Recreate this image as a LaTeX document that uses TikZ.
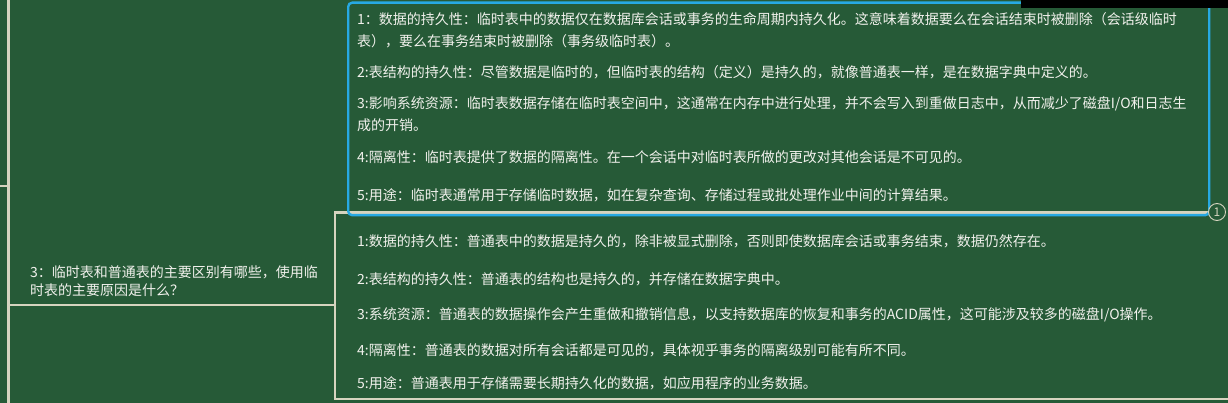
\documentclass[tikz,border=0pt]{standalone}
\usepackage{fontspec}
\setmainfont{Noto Sans CJK SC}
\definecolor{bg}{HTML}{265A37}
\definecolor{linec}{HTML}{D6D4BF}
\definecolor{textc}{HTML}{F1F1EC}
\definecolor{selc}{HTML}{27A9E3}
\definecolor{overlay}{HTML}{2B2C2D}
\begin{document}
\begin{tikzpicture}[x=1pt,y=-1pt,
  conn/.style={draw=linec,line width=2.2pt},
  txt/.style={anchor=base west,inner sep=0pt,text=textc,font=\fontsize{14}{16}\selectfont},
]
\fill[bg] (0,0) rectangle (1228,403);
\useasboundingbox (0,0) rectangle (1228,403);
% coordinates of connector ends
\coordinate (rootTop) at (8.5,-2);
\coordinate (rootBot) at (8.5,405);
\coordinate (stubL) at (-2,186);
\coordinate (stubR) at (8.5,186);
\coordinate (tL) at (9,305);
\coordinate (tR) at (335,305);
\coordinate (bTop) at (335,212.5);
\coordinate (bBot) at (335,399);
\coordinate (c1R) at (1208,212.5);
\coordinate (c2R) at (1230,399);
% connectors
\draw[conn] (rootTop) -- (rootBot);
\draw[conn] (stubL) -- (stubR);
\draw[conn] (tL) -- (tR);
\draw[conn] (c1R) -- (bTop) -- (bBot) -- (c2R);
% selection box of first child
\node[draw=selc,line width=2.4pt,rounded corners=4pt,minimum width=861pt,minimum height=212.5pt,anchor=north west,inner sep=0pt] (sel) at (347,1.5) {};
% topic
\node[txt] (topic1) at (30,277) {3：临时表和普通表的主要区别有哪些，使用临};
\node[txt] (topic2) at (30,295) {时表的主要原因是什么？};
% child 1
\node[txt] (a1) at (357,25) {1：数据的持久性：临时表中的数据仅在数据库会话或事务的生命周期内持久化。这意味着数据要么在会话结束时被删除（会话级临时};
\node[txt] (a2) at (357,47) {表），要么在事务结束时被删除（事务级临时表）。};
\node[txt] (a3) at (357,78) {2:表结构的持久性：尽管数据是临时的，但临时表的结构（定义）是持久的，就像普通表一样，是在数据字典中定义的。};
\node[txt] (a4) at (357,109) {3:影响系统资源：临时表数据存储在临时表空间中，这通常在内存中进行处理，并不会写入到重做日志中，从而减少了磁盘I/O和日志生};
\node[txt] (a5) at (357,131) {成的开销。};
\node[txt] (a6) at (357,163) {4:隔离性：临时表提供了数据的隔离性。在一个会话中对临时表所做的更改对其他会话是不可见的。};
\node[txt] (a7) at (357,201) {5:用途：临时表通常用于存储临时数据，如在复杂查询、存储过程或批处理作业中间的计算结果。};
% child 2
\node[txt] (b1) at (357,247) {1:数据的持久性：普通表中的数据是持久的，除非被显式删除，否则即使数据库会话或事务结束，数据仍然存在。};
\node[txt] (b2) at (357,284) {2:表结构的持久性：普通表的结构也是持久的，并存储在数据字典中。};
\node[txt] (b3) at (357,319) {3:系统资源：普通表的数据操作会产生重做和撤销信息，以支持数据库的恢复和事务的ACID属性，这可能涉及较多的磁盘I/O操作。};
\node[txt] (b4) at (357,355) {4:隔离性：普通表的数据对所有会话都是可见的，具体视乎事务的隔离级别可能有所不同。};
\node[txt] (b5) at (357,388) {5:用途：普通表用于存储需要长期持久化的数据，如应用程序的业务数据。};
% badge
\node[circle,draw=linec,line width=0.9pt,fill=bg,minimum size=17pt,inner sep=0pt,text=linec,font=\fontsize{12}{12}\selectfont] (badge) at (1217,212) {1};
% dark overlay top right
\fill[overlay] (1021,0) rectangle (1228,8.5);
\end{tikzpicture}
\end{document}
